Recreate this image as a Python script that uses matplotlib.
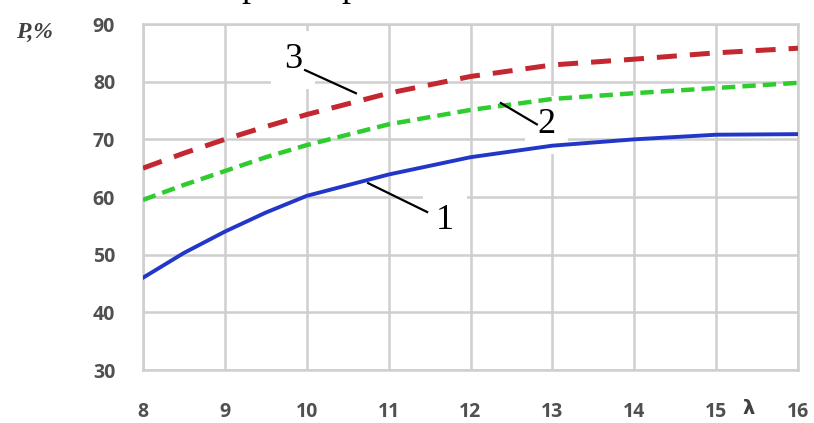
import matplotlib
matplotlib.use("Agg")
import matplotlib.pyplot as plt

# lambda values and power P (%) for the three curves
lam = [8, 8.5, 9, 9.5, 10, 11, 12, 13, 14, 15, 16]
p1 = [46.0, 50.3, 54.0, 57.3, 60.2, 63.9, 66.9, 68.9, 70.0, 70.8, 70.9]
p2 = [59.5, 62.1, 64.5, 66.9, 69.0, 72.6, 75.1, 77.0, 78.0, 78.9, 79.8]
p3 = [65.0, 67.6, 70.0, 72.2, 74.3, 78.0, 80.9, 82.9, 83.9, 85.0, 85.8]

xticks = [8, 9, 10, 11, 12, 13, 14, 15, 16]
yticks = [30, 40, 50, 60, 70, 80, 90]

fig = plt.figure(figsize=(8.14, 4.23), dpi=100)
ax = fig.add_axes([143/814, 1-370/423, 655/814, 346/423])

ax.plot(lam, p1, '-', color='#2236c8', lw=2.8, zorder=3)
ax.plot(lam, p2, '--', color='#2ecc2e', lw=3.2, dashes=(3, 1.6), zorder=3)
ax.plot(lam, p3, '--', color='#c3272f', lw=3.6, dashes=(4, 2.6), zorder=3)

ax.set_xlim(8, 16)
ax.set_ylim(30, 90)
ax.set_xticks(xticks)
ax.set_yticks(yticks)
ax.grid(True, color='#cfcfcf', lw=1.8, zorder=0)
ax.set_axisbelow(True)
for s in ax.spines.values():
    s.set_color('#cfcfcf')
    s.set_linewidth(1.8)
ax.tick_params(length=0, labelsize=14, labelcolor='#505050')
ax.tick_params(axis='x', pad=23)
ax.tick_params(axis='y', pad=20)
for lb in ax.get_xticklabels() + ax.get_yticklabels():
    lb.set_fontweight('bold')
    lb.set_fontfamily('Open Sans')

# curve numbers with leader lines
box = dict(boxstyle='square,pad=0.35', fc='white', ec='none')
ax.text(9.83, 83.8, '3', fontsize=26, family='Liberation Serif', ha='center', va='center', bbox=box, zorder=2)
ax.text(12.93, 72.5, '2', fontsize=26, family='Liberation Serif', ha='center', va='center', bbox=box, zorder=2)
ax.text(11.69, 56.0, '1', fontsize=26, family='Liberation Serif', ha='center', va='center', bbox=box, zorder=2)
ax.plot([9.98, 10.60], [82.0, 78.0], color='black', lw=1.6, zorder=4)
ax.plot([12.37, 12.81], [76.3, 72.6], color='black', lw=1.6, zorder=4)
ax.plot([10.75, 11.47], [62.4, 57.4], color='black', lw=1.6, zorder=4)

fig.text(34/814, 1-32/423, 'P,%', fontsize=17, family='Liberation Serif', style='italic',
         weight='bold', color='#404040', ha='center', va='center')
fig.text(749/814, 1-408/423, 'λ', fontsize=14, family='DejaVu Sans', weight='bold',
         color='#404040', ha='center', va='center')

# bottom of the caption line above the chart
fig.text(250/814, 1+4/423, 'р', fontsize=26, family='Liberation Serif', ha='center', va='baseline')
fig.text(350/814, 1+4/423, 'р', fontsize=26, family='Liberation Serif', ha='center', va='baseline')

fig.savefig('out.png', dpi=100)
